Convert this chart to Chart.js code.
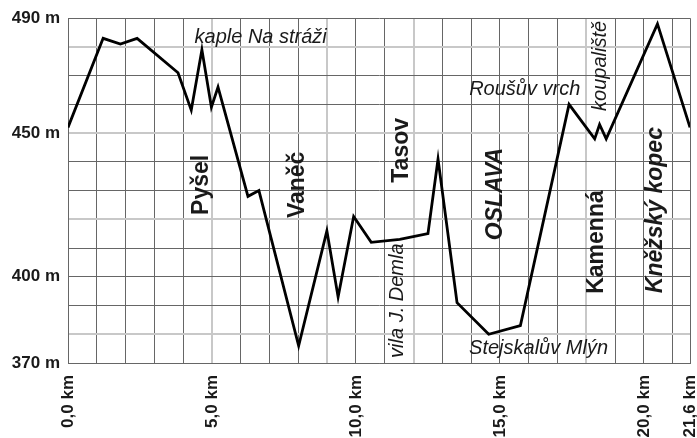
<!DOCTYPE html>
<html>
<head>
<meta charset="utf-8">
<script src="https://cdn.jsdelivr.net/npm/chart.js@4"></script>
<style>
  html, body { margin: 0; padding: 0; background: #fff; overflow: hidden; }
  #wrap { position: relative; width: 697px; height: 438px; }
</style>
</head>
<body>
<div id="wrap"><canvas id="profilChart"></canvas></div>
<script>
// ===== DATA =====
const vzdalenostKm = [0, 1.22, 1.82, 2.40, 3.82, 4.28, 4.65, 4.98, 5.21, 6.25, 6.63, 8.01, 8.99, 9.38,
    9.92, 10.53, 11.52, 12.5, 12.85, 13.51, 14.61, 15.71, 17.4, 18.29, 18.46, 18.69, 20.47, 21.6];
const vyskaM = [452, 483, 481, 483, 471, 458, 479, 459, 466, 428, 430, 376, 416, 393,
    421, 412, 413, 415, 441, 391, 380, 383, 460, 448, 453, 448, 488, 452];
const kmTicks = [0, 1, 2, 3, 4, 5, 6, 7, 8, 9, 10, 11, 12, 13, 14, 15, 16, 17, 18, 19, 20, 21, 21.6];
const kmLabels = [0, 5, 10, 15, 20, 21.6];
const mLabels = [370, 400, 450, 490];

// popisky: [text, km, m, svisle, styl]
const popisky = [
    ['kaple Na stráži', 6.69, 483.4, false, 'italic'],
    ['Roušův vrch', 15.86, 465.1, false, 'italic'],
    ['Stejskalův Mlýn', 16.34, 375.1, false, 'italic'],
    ['Pyšel', 4.64, 432, true, 'bold'],
    ['Vaněč', 7.98, 432, true, 'bold'],
    ['Tasov', 11.59, 444, true, 'bold'],
    ['vila J. Demla', 11.45, 391.7, true, 'italic'],
    ['OSLAVA', 14.85, 428.8, true, 'bold italic'],
    ['Kamenná', 18.36, 412.1, true, 'bold'],
    ['koupaliště', 18.5, 473.4, true, 'italic'],
    ['Kněžský kopec', 20.41, 423.2, true, 'bold italic']
];

const sediCary = { x: [5, 9, 12, 18], y: [480, 450, 420, 380] };
const fontRodina = '"Liberation Sans", Arial, sans-serif';

const popiskyPlugin = {
    id: 'popisky',
    afterDatasetsDraw(chart) {
        const { ctx, scales } = chart;
        popisky.forEach(([text, km, m, svisle, styl]) => {
            const px = scales.x.getPixelForValue(km);
            const py = scales.y.getPixelForValue(m);
            ctx.save();
            ctx.translate(px, py);
            if (svisle) ctx.rotate(-Math.PI / 2);
            const size = styl.includes('bold') ? 23 : 20;
            ctx.font = styl + ' ' + size + 'px ' + fontRodina;
            ctx.fillStyle = '#1a1a1a';
            ctx.textAlign = 'center';
            ctx.textBaseline = 'middle';
            ctx.fillText(text, 0, 0);
            ctx.restore();
        });
    }
};

const bgPlugin = {
    id: 'bg',
    beforeDraw(chart) {
        const { ctx, width, height } = chart;
        ctx.save();
        ctx.fillStyle = '#fff';
        ctx.fillRect(0, 0, width, height);
        ctx.restore();
    }
};

// ===== GRAF =====
new Chart(document.getElementById('profilChart'), {
    type: 'line',
    data: {
        datasets: [{
            data: vzdalenostKm.map((km, i) => ({ x: km, y: vyskaM[i] })),
            borderColor: '#000',
            borderWidth: 2.8,
            pointRadius: 0,
            tension: 0,
            fill: false
        }]
    },
    options: {
        responsive: true,
        maintainAspectRatio: false,
        animation: false,
        layout: { padding: { left: 0, right: 7, top: 16, bottom: 0 } },
        plugins: { legend: { display: false }, tooltip: { enabled: false } },
        scales: {
            x: {
                type: 'linear',
                min: 0,
                max: 21.6,
                afterBuildTicks: (scale) => { scale.ticks = kmTicks.map(v => ({ value: v })); },
                afterFit: (scale) => {
                    scale.height = 75;
                    scale.paddingLeft = 0;
                    scale.paddingRight = 0;
                },
                grid: {
                    drawTicks: false,
                    color: (c) => sediCary.x.includes(c.tick && c.tick.value) ? '#c8c8c8' : '#666',
                    lineWidth: (c) => sediCary.x.includes(c.tick && c.tick.value) ? 2 : 1
                },
                border: { color: '#666' },
                ticks: {
                    autoSkip: false,
                    maxRotation: 90,
                    minRotation: 90,
                    padding: 12,
                    color: '#1a1a1a',
                    font: { family: fontRodina, size: 17, weight: 'bold' },
                    callback: (v) => kmLabels.includes(v) ? v.toFixed(1).replace('.', ',') + ' km' : ''
                }
            },
            y: {
                min: 370,
                max: 490,
                afterFit: (scale) => { scale.width = 68; },
                grid: {
                    drawTicks: false,
                    color: (c) => sediCary.y.includes(c.tick && c.tick.value) ? '#c8c8c8' : '#666',
                    lineWidth: (c) => sediCary.y.includes(c.tick && c.tick.value) ? 2 : 1
                },
                border: { color: '#666' },
                ticks: {
                    stepSize: 10,
                    autoSkip: false,
                    padding: 8,
                    color: '#1a1a1a',
                    font: { family: fontRodina, size: 17, weight: 'bold' },
                    callback: (v) => mLabels.includes(v) ? v + ' m' : ''
                }
            }
        }
    },
    plugins: [bgPlugin, popiskyPlugin]
});
</script>
</body>
</html>
